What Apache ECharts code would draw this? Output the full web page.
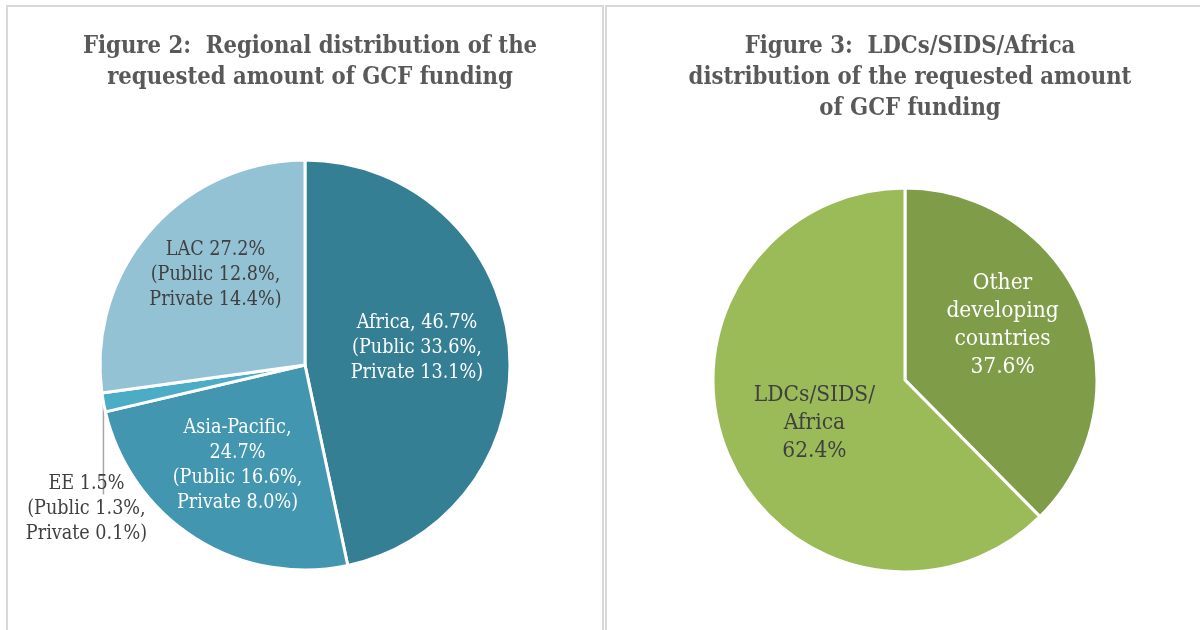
<!DOCTYPE html>
<html>
<head>
<meta charset="utf-8">
<script src="https://cdn.jsdelivr.net/npm/echarts@6/dist/echarts.min.js"></script>
<style>
html,body{margin:0;padding:0;background:#fff;}
#chart{width:1200px;height:630px;}
</style>
</head>
<body>
<div id="chart"></div>
<script>
// Figure 2 data
const regionNames = ['Africa', 'Asia-Pacific', 'EE', 'LAC'];
const regionShares = [46.7, 24.7, 1.5, 27.2];
const regionPublic = [33.6, 16.6, 1.3, 12.8];
const regionPrivate = [13.1, 8.0, 0.1, 14.4];
const regionLabels = [
  'Africa, 46.7%\n(Public 33.6%,\nPrivate 13.1%)',
  'Asia-Pacific,\n24.7%\n(Public 16.6%,\nPrivate 8.0%)',
  'EE 1.5%\n(Public 1.3%,\nPrivate 0.1%)',
  'LAC 27.2%\n(Public 12.8%,\nPrivate 14.4%)'
];
// Figure 3 data
const groupNames = ['Other developing countries', 'LDCs/SIDS/Africa'];
const groupShares = [37.6, 62.4];
const groupLabels = ['Other\ndeveloping\ncountries\n37.6%', 'LDCs/SIDS/\nAfrica\n62.4%'];

const title1 = 'Figure 2:  Regional distribution of the\nrequested amount of GCF funding';
const title2 = 'Figure 3:  LDCs/SIDS/Africa\ndistribution of the requested amount\nof GCF funding';

const SERIF = '"DejaVu Serif Condensed", "Liberation Serif", serif';
const regionColors = ['#357F94', '#4296AF', '#4BACC6', '#93C2D4'];
const regionLabelColors = ['#ffffff', '#ffffff', '#404040', '#404040'];
const regionOffsets = [[7, -6], [-11, 11], [0, 0], [-10, -21]];
const groupColors = ['#7F9C49', '#9BBB59'];
const groupLabelColors = ['#ffffff', '#404040'];
const groupOffsets = [[6, -17], [1, 6]];

const chart = echarts.init(document.getElementById('chart'), null, {renderer: 'canvas'});

const pie1Center = [305, 365];
const pie1R = 205;

const option = {
  animation: false,
  backgroundColor: '#ffffff',
  graphic: [
    {type: 'rect', shape: {x: 7, y: 6, width: 596, height: 640}, style: {fill: 'none', stroke: '#d9d9d9', lineWidth: 2}, silent: true},
    {type: 'rect', shape: {x: 606, y: 6, width: 610, height: 640}, style: {fill: 'none', stroke: '#d9d9d9', lineWidth: 2}, silent: true}
  ],
  title: [
    {text: title1, left: 305, top: 26, textAlign: 'center',
     textStyle: {fontFamily: SERIF, fontWeight: 'bold', fontSize: 23.6, color: '#595959', lineHeight: 31}},
    {text: title2, left: 905, top: 26, textAlign: 'center',
     textStyle: {fontFamily: SERIF, fontWeight: 'bold', fontSize: 23.6, color: '#595959', lineHeight: 31}}
  ],
  series: [
    {
      type: 'pie',
      center: pie1Center,
      radius: pie1R,
      startAngle: 90,
      clockwise: true,
      silent: true,
      itemStyle: {borderColor: '#ffffff', borderWidth: 3},
      labelLine: {show: false},
      data: regionNames.map((n, i) => ({
        name: n,
        value: regionShares[i],
        publicShare: regionPublic[i],
        privateShare: regionPrivate[i],
        itemStyle: {color: regionColors[i]},
        label: {
          show: true,
          position: i === 2 ? 'outside' : 'inside',
          formatter: regionLabels[i],
          color: regionLabelColors[i],
          fontFamily: SERIF,
          fontSize: 19.6,
          lineHeight: 25,
          align: 'center',
          overflow: 'none',
          offset: regionOffsets[i]
        },
        labelLine: i === 2 ? {show: true, length: 20, length2: 10, lineStyle: {color: '#a6a6a6', width: 1.5}} : {show: false}
      })),
      labelLayout: function (p) {
        if (p.dataIndex !== 2) return {};
        let start;
        if (p.labelLinePoints && p.labelLinePoints[0]) {
          start = p.labelLinePoints[0];
        } else {
          start = [pie1Center[0] - pie1R, pie1Center[1]];
        }
        const sx = start[0], sy = start[1];
        return {
          x: sx - 17,
          y: sy + 106,
          align: 'center',
          verticalAlign: 'middle',
          labelLinePoints: [[sx, sy], [sx, sy + 50], [sx, sy + 92]]
        };
      }
    },
    {
      type: 'pie',
      center: [905, 380],
      radius: 192,
      startAngle: 90,
      clockwise: true,
      silent: true,
      itemStyle: {borderColor: '#ffffff', borderWidth: 3},
      labelLine: {show: false},
      data: groupNames.map((n, i) => ({
        name: n,
        value: groupShares[i],
        itemStyle: {color: groupColors[i]},
        label: {
          show: true,
          position: 'inside',
          formatter: groupLabels[i],
          color: groupLabelColors[i],
          fontFamily: SERIF,
          fontSize: 22.5,
          lineHeight: 28,
          align: 'center',
          overflow: 'none',
          offset: groupOffsets[i]
        }
      }))
    }
  ]
};
chart.setOption(option);
</script>
</body>
</html>
